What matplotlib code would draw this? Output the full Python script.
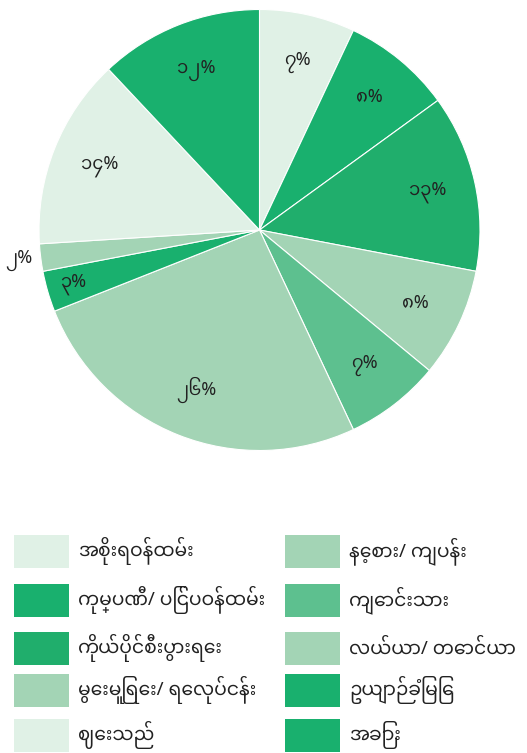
import matplotlib
matplotlib.use("Agg")
import matplotlib.pyplot as plt
from matplotlib.patches import Rectangle
import numpy as np

FONT = ['Noto Sans Myanmar', 'DejaVu Sans']
plt.rcParams['font.family'] = FONT

# Categories in legend order (two columns, column-major)
categories = ["အစိုးရဝန်ထမ်း", "ကုမ္ပဏီ/ ပြင်ပဝန်ထမ်း", "ကိုယ်ပိုင်စီးပွားရေး",
              "မွေးမြူရေး/ ရေလုပ်ငန်း", "ဈေးသည်",
              "နေ့စား/ ကျပန်း", "ကျောင်းသား", "လယ်ယာ/ တောင်ယာ",
              "ဥယျာဉ်ခြံမြေ", "အခြား"]
colors = ["#e0f1e6", "#19b06e", "#20ae6c", "#a3d4b5", "#e0f1e6",
          "#a3d4b5", "#5dc08f", "#a3d4b5", "#19b06e", "#19b06e"]
# Pie order (clockwise from 12 o'clock) and percentage values
pie_order = ["အစိုးရဝန်ထမ်း", "ကုမ္ပဏီ/ ပြင်ပဝန်ထမ်း", "ကိုယ်ပိုင်စီးပွားရေး",
             "မွေးမြူရေး/ ရေလုပ်ငန်း", "ကျောင်းသား", "နေ့စား/ ကျပန်း",
             "ဥယျာဉ်ခြံမြေ", "လယ်ယာ/ တောင်ယာ", "ဈေးသည်", "အခြား"]
values = [7, 8, 13, 8, 7, 26, 3, 2, 14, 12]

MY_DIGITS = str.maketrans("0123456789", "၀၁၂၃၄၅၆၇၈၉")
def my_pct(v):
    return str(v).translate(MY_DIGITS) + "%"

W, H = 527, 753
fig = plt.figure(figsize=(W / 100, H / 100), dpi=100)

cx, cy, r = 259.5, 230, 220.5
ax = fig.add_axes([(cx - r) / W, (H - cy - r) / H, 2 * r / W, 2 * r / H])
pie_colors = [colors[categories.index(c)] for c in pie_order]
wedges, _ = ax.pie(values, colors=pie_colors, startangle=90, counterclock=False,
                   radius=1, wedgeprops=dict(edgecolor="white", linewidth=0.8))
ax.set_xlim(-1, 1)
ax.set_ylim(-1, 1)
ax.set_aspect("equal")
ax.axis("off")

for w, v in zip(wedges, values):
    ang = np.deg2rad((w.theta1 + w.theta2) / 2)
    d = 1.1 if v <= 2 else (0.88 if v <= 3 else 0.78)
    ax.text(d * np.cos(ang), d * np.sin(ang), my_pct(v), ha="center", va="center",
            fontsize=13, color="#222222", family=FONT)

# Legend (two columns)
sq_w, sq_h = 55, 33
col_x = [14, 285]
row_y = [551, 600, 648, 690, 735]
for i, (cat, col) in enumerate(zip(categories, colors)):
    c, rr = divmod(i, 5)
    x0 = col_x[c]
    yc = row_y[rr]
    fig.add_artist(Rectangle((x0 / W, 1 - (yc + sq_h / 2) / H), sq_w / W, sq_h / H,
                             transform=fig.transFigure, facecolor=col, edgecolor="none"))
    fig.text((x0 + sq_w + 9) / W, 1 - yc / H, cat, ha="left", va="center",
             fontsize=13.5, color="#222222", family=FONT)

fig.savefig("out.png", dpi=100, facecolor="white")
